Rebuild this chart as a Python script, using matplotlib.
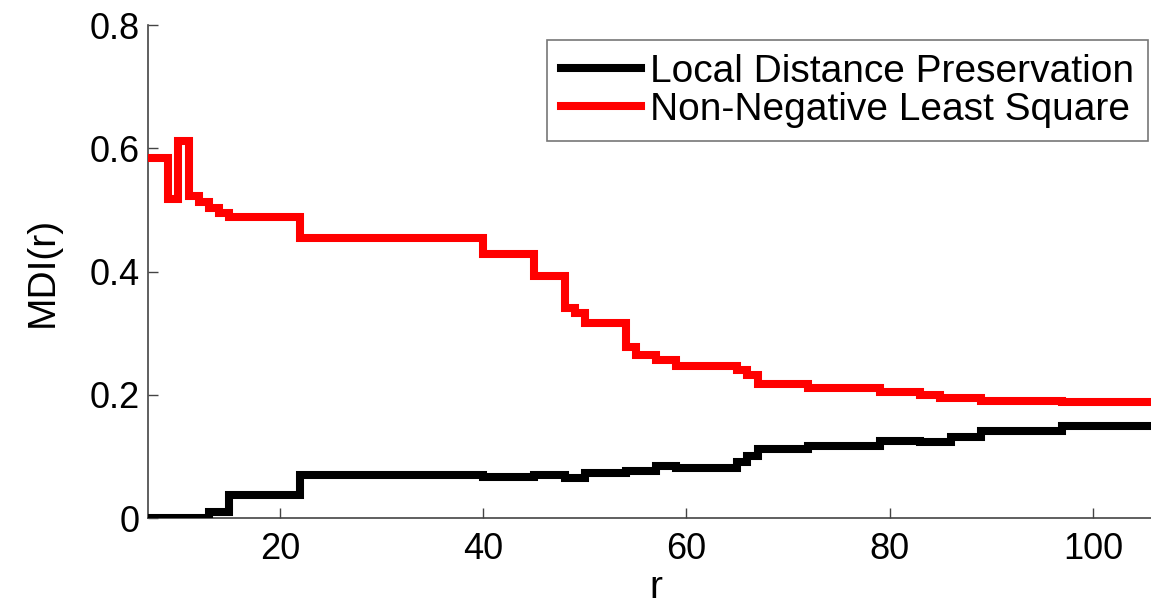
import matplotlib
matplotlib.use("Agg")
import matplotlib.pyplot as plt

# Step change points (r) and MDI values (steps-post)
r_lpd = [7, 13, 15, 22, 40, 45, 48, 50, 54, 57, 59, 65, 66, 67, 72, 79, 83, 86, 89, 97, 107]
mdi_lpd = [0.0, 0.01, 0.037, 0.07, 0.066, 0.069, 0.065, 0.073, 0.077, 0.085, 0.081,
           0.091, 0.100, 0.112, 0.117, 0.125, 0.123, 0.132, 0.142, 0.150, 0.150]

r_nnls = [7, 9, 10, 11, 12, 13, 14, 15, 22, 40, 45, 48, 49, 50, 54, 55, 57, 59, 65, 66,
          67, 72, 79, 83, 85, 89, 97, 107]
mdi_nnls = [0.585, 0.517, 0.612, 0.522, 0.513, 0.503, 0.495, 0.488, 0.455, 0.428, 0.393,
            0.341, 0.333, 0.317, 0.278, 0.265, 0.257, 0.246, 0.240, 0.232, 0.217, 0.211,
            0.205, 0.200, 0.195, 0.190, 0.188, 0.188]

labels = ["Local Distance Preservation", "Non-Negative Least Square"]
xticks = [20, 40, 60, 80, 100]
yticks = [0, 0.2, 0.4, 0.6, 0.8]
yticklabels = ["0", "0.2", "0.4", "0.6", "0.8"]

plt.rcParams["font.family"] = ["Liberation Sans", "DejaVu Sans"]

fig = plt.figure(figsize=(11.51, 6.10), dpi=100)
ax = fig.add_axes([0.1286, 0.1508, 0.8827, 0.8082])

ax.plot(r_lpd, mdi_lpd, drawstyle="steps-post", color="black", lw=5.8,
        solid_joinstyle="miter", label=labels[0])
ax.plot(r_nnls, mdi_nnls, drawstyle="steps-post", color="#ff0000", lw=5.8,
        solid_joinstyle="miter", label=labels[1])

ax.set_xlim(7, 107)
ax.set_ylim(0, 0.8)
ax.set_xticks(xticks)
ax.set_yticks(yticks)
ax.set_yticklabels(yticklabels)

for s in ["top", "right"]:
    ax.spines[s].set_visible(False)
for s in ["left", "bottom"]:
    ax.spines[s].set_color("#444444")
    ax.spines[s].set_linewidth(1.2)
    ax.spines[s].set_zorder(0.5)

ax.tick_params(direction="in", length=7, width=1.0, color="#444444",
               labelsize=26, labelcolor="black")
ax.tick_params(axis="x", pad=10)
ax.tick_params(axis="y", pad=6)

ax.set_xlabel("r", fontsize=28, labelpad=2)
ax.set_ylabel("MDI(r)", fontsize=28, labelpad=21)

leg = ax.legend(loc="upper right", bbox_to_anchor=(1148 / 1151, 1 - 40 / 610),
                bbox_transform=fig.transFigure, fontsize=28, frameon=True,
                fancybox=False, handlelength=2.05, handletextpad=0.25,
                borderpad=0.35, labelspacing=0.05, borderaxespad=0)
leg.get_frame().set_edgecolor("#555555")
leg.get_frame().set_linewidth(1.2)

fig.savefig("out.png", dpi=100)
